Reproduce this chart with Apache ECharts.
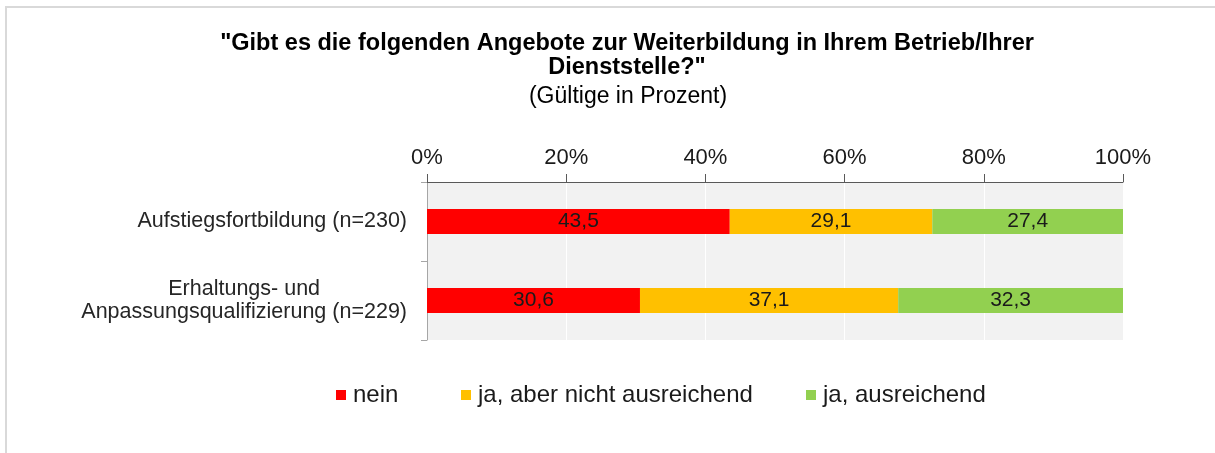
<!DOCTYPE html>
<html>
<head>
<meta charset="utf-8">
<script src="https://cdn.jsdelivr.net/npm/echarts@6/dist/echarts.min.js"></script>
<style>
  html, body { margin: 0; padding: 0; background: #fff; }
  #wrap { position: relative; width: 1215px; height: 453px; overflow: hidden; }
  #frame { position: absolute; left: 5px; top: 6px; right: -10px; bottom: -10px;
           border-left: 2px solid #d9d9d9; border-top: 2px solid #d9d9d9; pointer-events: none; }
  #chart { position: absolute; left: 0; top: 0; width: 1215px; height: 453px; }
</style>
</head>
<body>
<div id="wrap">
  <div id="chart"></div>
  <div id="frame"></div>
</div>
<script>
// ---- data ----
const categories = ['Aufstiegsfortbildung (n=230)', 'Erhaltungs- und\nAnpassungsqualifizierung (n=229)'];
const seriesNames = ['nein', 'ja, aber nicht ausreichend', 'ja, ausreichend'];
const nein = [43.5, 30.6];
const jaNichtAusreichend = [29.1, 37.1];
const jaAusreichend = [27.4, 32.3];
const xTicks = [0, 20, 40, 60, 80, 100];
const titleLine = '"Gibt es die folgenden Angebote zur Weiterbildung in Ihrem Betrieb/Ihrer\nDienststelle?"';
const subTitleLine = '(Gültige in Prozent)';

const colors = ['#FF0000', '#FFC000', '#92D050'];
const FONT = "'Liberation Sans', Arial, sans-serif";

const chart = echarts.init(document.getElementById('chart'), null, { renderer: 'canvas' });

const valuesBySeries = [nein, jaNichtAusreichend, jaAusreichend];

const option = {
  animation: false,
  backgroundColor: 'transparent',
  textStyle: { fontFamily: FONT },
  title: [
    {
      text: titleLine,
      left: 622, top: 27, textAlign: 'center',
      textStyle: { fontFamily: FONT, fontSize: 23.5, fontWeight: 'bold', color: '#000', lineHeight: 24 }
    },
    {
      text: subTitleLine,
      left: 623, top: 79, textAlign: 'center',
      textStyle: { fontFamily: FONT, fontSize: 23, fontWeight: 'normal', color: '#000', lineHeight: 26 }
    }
  ],
  legend: seriesNames.map((n, i) => ({
    data: [n],
    left: [336, 461, 806][i],
    top: 383,
    padding: 0,
    icon: 'rect',
    itemWidth: 10, itemHeight: 10,
    selectedMode: false,
    textStyle: { fontFamily: FONT, fontSize: 24, color: '#1a1a1a', padding: [0, 0, 0, 2] }
  })),
  grid: {
    left: 427, right: 92, top: 182, bottom: 113,
    show: true, backgroundColor: '#f2f2f2', borderWidth: 0
  },
  xAxis: {
    type: 'value', position: 'top',
    min: xTicks[0], max: xTicks[xTicks.length - 1], interval: 20,
    axisLine: { show: true, lineStyle: { color: '#595959', width: 1 } },
    axisTick: { show: true, length: 8, lineStyle: { color: '#595959' } },
    axisLabel: { formatter: '{value}%', fontFamily: FONT, fontSize: 22, color: '#1a1a1a', margin: 13 },
    splitLine: { show: true, lineStyle: { color: '#ffffff', width: 1 } }
  },
  yAxis: {
    type: 'category', inverse: true, data: categories,
    axisLine: { show: true, lineStyle: { color: '#a6a6a6', width: 1 } },
    axisTick: { show: true, length: 6, lineStyle: { color: '#a6a6a6' } },
    axisLabel: {
      margin: 20, align: 'right',
      formatter: v => v.split('\n').map(l => '{c|' + l + '}').join('\n'),
      rich: { c: { align: 'center', fontFamily: FONT, fontSize: 21.5, color: '#262626', lineHeight: 23 } }
    },
    splitLine: { show: false }
  },
  series: seriesNames.map((n, i) => ({
    name: n, type: 'bar', stack: 'total', barWidth: 25,
    data: valuesBySeries[i],
    itemStyle: { color: colors[i] },
    label: {
      show: true, position: 'inside',
      formatter: p => p.value.toFixed(1).replace('.', ','),
      fontFamily: FONT, fontSize: 21, color: '#1a1a1a'
    },
    emphasis: { disabled: true }
  }))
};

chart.setOption(option);
</script>
</body>
</html>
